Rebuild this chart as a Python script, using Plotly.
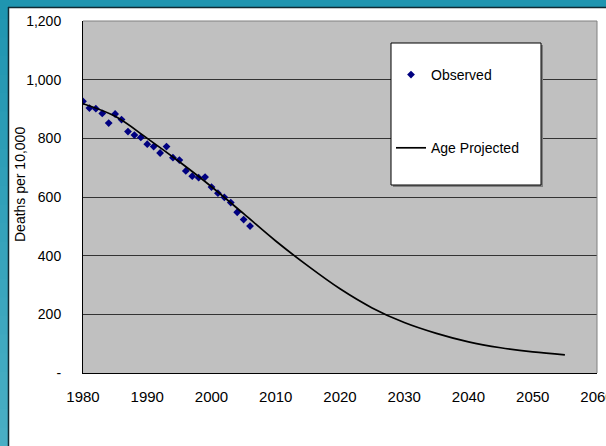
import plotly.graph_objects as go

# ---- data ----
obs_years = [1980, 1981, 1982, 1983, 1984, 1985, 1986, 1987, 1988, 1989,
             1990, 1991, 1992, 1993, 1994, 1995, 1996, 1997, 1998, 1999,
             2000, 2001, 2002, 2003, 2004, 2005, 2006]
obs_vals = [926, 903, 901, 885, 852, 883, 864, 823, 811, 803,
            780, 772, 750, 772, 734, 726, 689, 671, 666, 668,
            634, 613, 599, 581, 548, 523, 501]

proj_years = [1980, 1985, 1990, 1995, 2000, 2005, 2010, 2015,
              2020, 2025, 2030, 2035, 2040, 2045, 2050, 2055]
proj_vals = [918, 875, 800, 720, 635, 543, 450, 365,
             287, 222, 172, 135, 106, 86, 72, 62]

x_ticks = [1980, 1990, 2000, 2010, 2020, 2030, 2040, 2050, 2060]
y_ticks = [0, 200, 400, 600, 800, 1000, 1200]
y_ticktext = ["-", "200", "400", "600", "800", "1,000", "1,200"]

# ---- layout geometry (pixels) ----
W, H = 606, 446
L, R, T, B = 83, 597, 21, 373
PW, PH = R - L, B - T


def px(x):
    return (x - L) / PW


def py(y):
    return (B - y) / PH


FONT = "Liberation Sans, Arial, sans-serif"

fig = go.Figure()
fig.add_trace(go.Scatter(
    x=obs_years, y=obs_vals, mode="markers", name="Observed",
    legendgroup="a",
    marker=dict(symbol="diamond", size=6, color="#000080"),
))
fig.add_trace(go.Scatter(
    x=proj_years, y=proj_vals, mode="lines", name="Age Projected",
    legendgroup="b",
    line=dict(color="black", width=1.7, shape="spline", smoothing=1.0),
))

shapes = []
# teal frame (left strip gradient)
top_c = (0x1f, 0x95, 0xb0)
bot_c = (0x4a, 0xaf, 0xc5)
n = 24
for i in range(n):
    t = (i + 0.5) / n
    c = tuple(int(top_c[k] + (bot_c[k] - top_c[k]) * t) for k in range(3))
    y0 = H * i / n
    y1 = H * (i + 1) / n + 1
    shapes.append(dict(type="rect", xref="paper", yref="paper",
                       x0=px(0), x1=px(8), y0=py(y1), y1=py(y0),
                       fillcolor="rgb(%d,%d,%d)" % c, line=dict(width=0),
                       layer="below"))
shapes.append(dict(type="rect", xref="paper", yref="paper",
                   x0=px(0), x1=px(W), y0=py(7), y1=py(0),
                   fillcolor="rgb(31,149,176)", line=dict(width=0), layer="below"))
# dark edge of white panel
shapes.append(dict(type="line", xref="paper", yref="paper",
                   x0=px(8.5), x1=px(8.5), y0=py(H), y1=py(7),
                   line=dict(color="#0f2a33", width=1.5), layer="below"))
shapes.append(dict(type="line", xref="paper", yref="paper",
                   x0=px(8), x1=px(W), y0=py(7.5), y1=py(7.5),
                   line=dict(color="#0f2a33", width=1.5), layer="below"))
# plot border (top / right gray)
shapes.append(dict(type="line", xref="paper", yref="paper",
                   x0=0, x1=1, y0=1, y1=1,
                   line=dict(color="#808080", width=1), layer="above"))
shapes.append(dict(type="line", xref="paper", yref="paper",
                   x0=1, x1=1, y0=0, y1=1,
                   line=dict(color="#808080", width=1), layer="above"))
# legend box with shadow
shapes.append(dict(type="rect", xref="paper", yref="paper",
                   x0=px(393), x1=px(543), y0=py(187), y1=py(45),
                   fillcolor="#808080", line=dict(width=0), layer="above"))
shapes.append(dict(type="rect", xref="paper", yref="paper",
                   x0=px(391), x1=px(541), y0=py(185), y1=py(43),
                   fillcolor="white", line=dict(color="black", width=1),
                   layer="above"))

fig.update_layout(
    width=W, height=H,
    margin=dict(l=L, r=W - R, t=T, b=H - B, pad=0),
    paper_bgcolor="white",
    plot_bgcolor="#C0C0C0",
    font=dict(family=FONT, size=14, color="black"),
    showlegend=True,
    legend=dict(
        x=px(391), y=py(59), xanchor="left", yanchor="top",
        bgcolor="rgba(0,0,0,0)", borderwidth=0,
        traceorder="grouped", tracegroupgap=52,
        font=dict(family=FONT, size=14, color="black"),
    ),
    shapes=shapes,
    annotations=[dict(
        text="Deaths per 10,000", xref="paper", yref="paper",
        x=px(20), y=py(185), xanchor="center", yanchor="middle",
        textangle=-90, showarrow=False,
        font=dict(family=FONT, size=14, color="black"),
    )],
)

fig.update_xaxes(
    range=[1980, 2060], tickvals=x_ticks, showgrid=False,
    showline=True, linecolor="black", linewidth=1, mirror=False,
    zeroline=False, ticks="outside", ticklen=10,
    tickcolor="rgba(0,0,0,0)", automargin=False,
    ticklabeloverflow="allow",
    tickfont=dict(family=FONT, size=15, color="black"),
)
fig.update_yaxes(
    range=[0, 1200], tickvals=y_ticks, ticktext=y_ticktext,
    showgrid=True, gridcolor="#333333", gridwidth=1,
    showline=True, linecolor="black", linewidth=1,
    zeroline=False, ticks="outside", ticklen=18,
    tickcolor="rgba(0,0,0,0)", automargin=False,
    tickfont=dict(family=FONT, size=14, color="black"),
)

fig.write_html(
    "out.html",
    config={"displayModeBar": False},
    post_script="document.body.style.margin='0';document.body.style.overflow='hidden';",
)
